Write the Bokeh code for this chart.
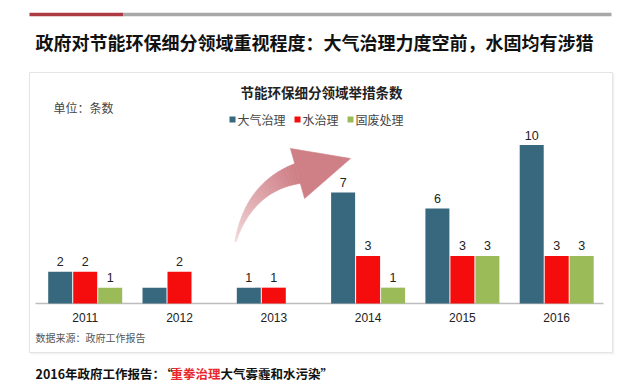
import numpy as np
from bokeh.plotting import figure
from bokeh.models import Range1d, ColumnDataSource, Label
from bokeh.core.properties import value
from bokeh.embed import file_html
from bokeh.resources import INLINE
from bokeh.transform import dodge

# ---------------- data ----------------
categories = ["2011", "2012", "2013", "2014", "2015", "2016"]
series_names = ["大气治理", "水治理", "固废处理"]
air = [2, 1, 1, 7, 6, 10]
water = [2, 2, 1, 3, 3, 3]
solid = [1, 0, 0, 1, 3, 3]
air_labels = ["2", "", "1", "7", "6", "10"]
water_labels = ["2", "2", "1", "3", "3", "3"]
solid_labels = ["1", "", "", "1", "3", "3"]

title_text = "政府对节能环保细分领域重视程度：大气治理力度空前，水固均有涉猎"
subtitle_text = "节能环保细分领域举措条数"
unit_text = "单位：条数"
source_text = "数据来源：政府工作报告"
foot_a = "2016年政府工作报告："
foot_q = "“"
foot_red = "重拳治理"
foot_b = "大气雾霾和水污染”"

# ---------------- styles ----------------
colors = ["#37687e", "#f50d0d", "#9bbb59"]
CJK = "Noto Sans CJK SC"
LAT = "Liberation Sans"

W, H = 640, 388
px_per_cat = 94.3
cat0_px = 84.7
px_per_unit = 15.85
base_px = 303

xr = Range1d((0 - cat0_px) / px_per_cat, (W - cat0_px) / px_per_cat)
y0 = -(H - base_px) / px_per_unit
yr = Range1d(y0, y0 + H / px_per_unit)

p = figure(width=W, height=H, x_range=xr, y_range=yr, output_backend="svg",
           toolbar_location=None, x_axis_type=None, y_axis_type=None,
           min_border=0, min_border_left=0, min_border_right=0,
           min_border_top=0, min_border_bottom=0,
           outline_line_color=None, background_fill_color="white",
           border_fill_color="white")
p.extra_x_ranges = {"px": Range1d(0, W)}
p.extra_y_ranges = {"px": Range1d(H, 0)}
PX = dict(x_range_name="px", y_range_name="px")

# chart box
p.quad(left=30, right=614, top=73, bottom=354, fill_color="#f3f3f3", line_color=None, **PX)
p.quad(left=29, right=612, top=72, bottom=352, fill_color="white", line_color="#e4e4e4", line_width=1, **PX)

# top rule
p.segment(x0=[29, 123], x1=[123, 611], y0=[14, 14], y1=[14, 14],
          line_color=["#ac3a42", "#a8a8a8"], line_width=3.5, **PX)

# title
p.add_layout(Label(x=35, y=41, text=title_text, text_font=CJK, text_font_size="18px",
                   text_font_style="bold", text_color="#111111", text_baseline="middle", **PX))
# subtitle
p.add_layout(Label(x=321, y=91, text=subtitle_text, text_font=CJK, text_font_size="13.5px",
                   text_font_style="bold", text_color="#222222", text_baseline="middle",
                   text_align="center", **PX))
p.add_layout(Label(x=53, y=107, text=unit_text, text_font=CJK, text_font_size="12px",
                   text_color="#444444", text_baseline="middle", **PX))

# legend
leg_sq_x = [232, 297, 350]
for name, c, lx in zip(series_names, colors, leg_sq_x):
    p.scatter(x=[lx], y=[119], marker="square", size=6, fill_color=c, line_color=None, **PX)
    p.add_layout(Label(x=lx + 5, y=119, text=name, text_font=CJK, text_font_size="12px",
                       text_color="#444444", text_baseline="middle", **PX))

# curved arrow (decoration)
P0 = np.array([235.0, 241.0])
P2 = np.array([297.0, 173.0])
tip = np.array([350.0, 158.0])
d = tip - P2
du = d / np.linalg.norm(d)
P1 = P2 - 50 * du
N = 30
ts = np.linspace(0, 1, N + 1)
C = np.array([(1 - t) ** 2 * P0 + 2 * (1 - t) * t * P1 + t ** 2 * P2 for t in ts])
T = np.array([2 * (1 - t) * (P1 - P0) + 2 * t * (P2 - P1) for t in ts])
T = T / np.linalg.norm(T, axis=1)[:, None]
Nrm = np.stack([-T[:, 1], T[:, 0]], axis=1)
w = 1.5 + 19 * ts ** 1.1
Lp = C + Nrm * (w[:, None] / 2)
Rp = C - Nrm * (w[:, None] / 2)
c_tail = np.array([244, 222, 224])
c_head = np.array([207, 127, 134])
xs, ys, cols = [], [], []
for i in range(N):
    f = (ts[i] + ts[i + 1]) / 2
    col = (c_tail + (c_head - c_tail) * f ** 0.8).astype(int)
    cols.append("#%02x%02x%02x" % tuple(col))
    xs.append([Lp[i, 0], Lp[i + 1, 0], Rp[i + 1, 0], Rp[i, 0]])
    ys.append([Lp[i, 1], Lp[i + 1, 1], Rp[i + 1, 1], Rp[i, 1]])
p.patches(xs=xs, ys=ys, fill_color=cols, line_color=cols, line_width=0.6, **PX)
nh = np.array([-du[1], du[0]])
hb1 = P2 + nh * 26
hb2 = P2 - nh * 26
p.patch(x=[hb1[0], tip[0], hb2[0]], y=[hb1[1], tip[1], hb2[1]],
        fill_color="#cf7f86", line_color="#cf7f86", line_width=0.6, **PX)

# baseline
p.segment(x0=[35], x1=[603], y0=[base_px], y1=[base_px], line_color="#bdbdbd", line_width=1.5, **PX)

# bars
src = ColumnDataSource(dict(x=list(range(len(categories))), cat=categories,
                            air=air, water=water, solid=solid,
                            air_l=air_labels, water_l=water_labels, solid_l=solid_labels,
                            zero=[0] * len(categories)))
offsets = [-0.265, 0.0, 0.265]
keys = ["air", "water", "solid"]
for k, off, c in zip(keys, offsets, colors):
    p.vbar(x=dodge("x", off, range=p.x_range), top=k, bottom=0, width=0.2545,
           source=src, fill_color=c, line_color=None)
    p.text(x=dodge("x", off, range=p.x_range), y=k, text=k + "_l", source=src,
           text_align="center", text_baseline="middle", y_offset=-10,
           text_font=value(LAT), text_font_size=value("12.5px"), text_color="#222222")

# category labels
p.text(x="x", y="zero", text="cat", source=src, text_align="center", text_baseline="middle",
       y_offset=14, text_font=value(LAT), text_font_size=value("12px"), text_color="#222222")

# source note
p.add_layout(Label(x=35, y=337, text=source_text, text_font=CJK, text_font_size="10px",
                   text_color="#555555", text_baseline="middle", **PX))

# footer
p.add_layout(Label(x=35, y=373, text=foot_a, text_font=CJK, text_font_size="12.5px",
                   text_font_style="bold", text_color="#111111", text_baseline="middle", **PX))
p.add_layout(Label(x=160, y=373, text=foot_q, text_font=CJK, text_font_size="12.5px",
                   text_font_style="bold", text_color="#111111", text_baseline="middle", **PX))
p.add_layout(Label(x=170, y=373, text=foot_red, text_font=CJK, text_font_size="12.5px",
                   text_font_style="bold", text_color="#e8262e", text_baseline="middle", **PX))
p.add_layout(Label(x=220, y=373, text=foot_b, text_font=CJK, text_font_size="12.5px",
                   text_font_style="bold", text_color="#111111", text_baseline="middle", **PX))

open("out.html", "w").write(file_html(p, INLINE))
